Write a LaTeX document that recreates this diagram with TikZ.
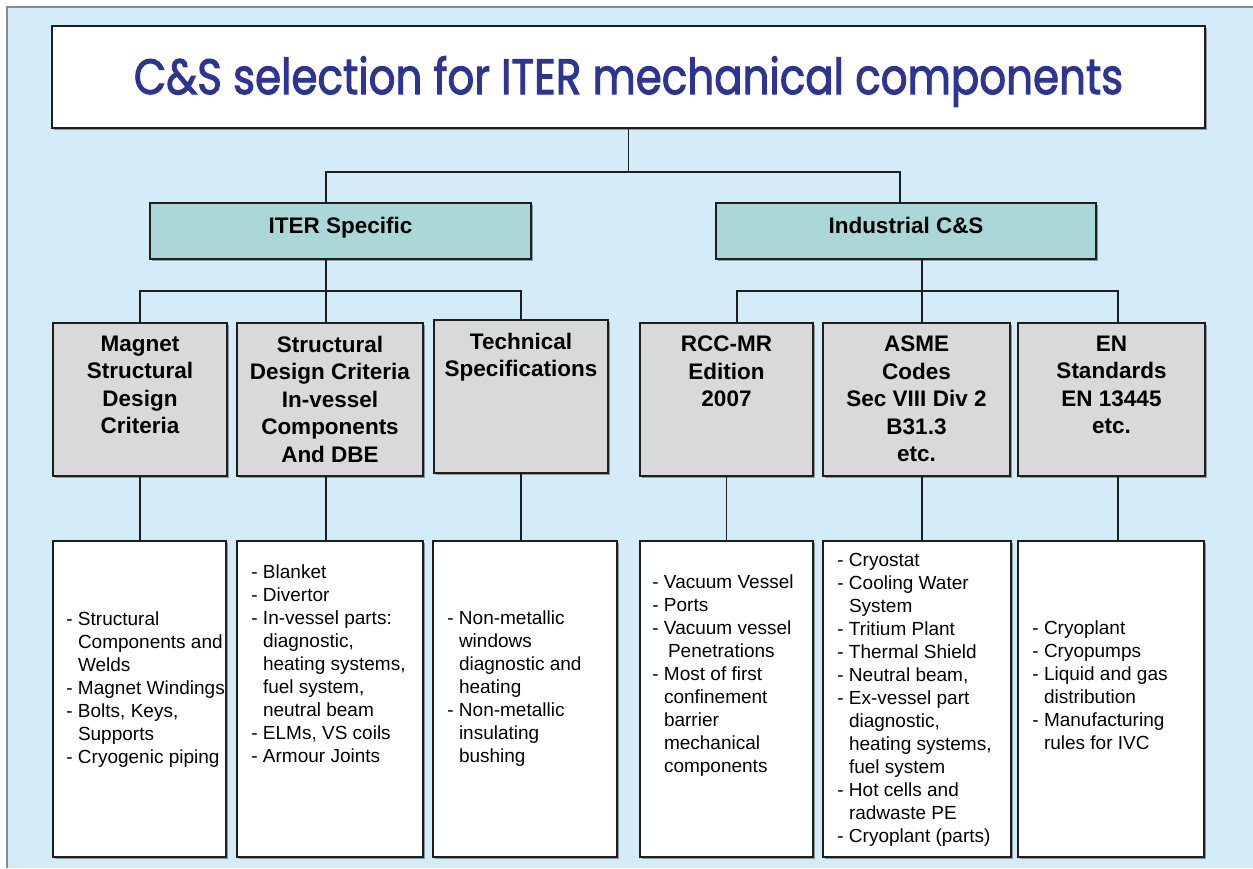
\documentclass[tikz,border=0pt]{standalone}
\usepackage{fontspec}
\setmainfont{Liberation Sans}
\newfontfamily\titlefont{Poppins}[FakeBold=2.2]
\usetikzlibrary{positioning,shadows}

\definecolor{bgblue}{RGB}{212,235,248}
\definecolor{framegray}{RGB}{130,140,150}
\definecolor{tealbox}{RGB}{170,215,216}
\definecolor{graybox}{RGB}{217,217,217}
\definecolor{titleblue}{RGB}{46,52,148}
\definecolor{linedark}{RGB}{30,30,30}
\newcommand{\cont}{\phantom{- }}

\begin{document}
\begin{tikzpicture}[x=1pt,y=-1pt,
  box/.style={draw=linedark,line width=1.6pt,inner sep=0pt,
    drop shadow={shadow xshift=1.5pt,shadow yshift=-1.5pt,fill=black,opacity=.35}},
  groupbox/.style={box,fill=tealbox,minimum width=381pt,minimum height=56pt},
  codebox/.style={box,fill=graybox,minimum height=153pt},
  listbox/.style={box,fill=white,minimum height=316pt},
  grouptext/.style={inner sep=0pt,anchor=base,yshift=-2pt,font=\fontsize{22.5}{27.5}\selectfont\bfseries},
  codetext/.style={inner sep=0pt,align=center,font=\fontsize{22.5}{27.5}\selectfont\bfseries},
  listtext/.style={inner sep=0pt,align=left,font=\fontsize{19}{23}\selectfont},
  link/.style={draw=linedark,line width=1.8pt}]
\useasboundingbox (0,0) rectangle (1253,868);
\fill[bgblue] (7,7) rectangle (1253,868);
\draw[framegray,line width=1.5pt] (7,868) -- (7,7) -- (1253,7);

% title and the two families
\node[box,fill=white,minimum width=1153pt,minimum height=102pt] (title) at (628.5,77) {};
\node[inner sep=0pt,anchor=base,text=titleblue,font=\titlefont\fontsize{42}{48}\selectfont]
  (titletxt) at (628.5,94) {\scalebox{1}[1.18]{C\&S selection for ITER mechanical components}};
\node[groupbox] (iter) at (340.5,231) {};
\node[grouptext] (itertxt) at (iter.center) {ITER Specific};
\node[groupbox,minimum width=380pt] (indus) at (906,231) {};
\node[grouptext] (industxt) at (indus.center) {Industrial C\&S};

% codes and standards
\node[codebox,minimum width=174pt] (magnet) at (140,399.5) {};
\node[codetext,below=13.5pt of magnet.north] (magnettxt) {Magnet\\Structural\\Design\\Criteria};
\node[codebox,minimum width=186pt] (struct) at (330,399.5) {};
\node[codetext,below=13.5pt of struct.north] (structtxt) {Structural\\Design Criteria\\In-vessel\\Components\\And DBE};
\node[codebox,minimum width=174pt] (tech) at (521,396.5) {};
\node[codetext,below=13.5pt of tech.north] (techtxt) {Technical\\Specifications};
\node[codebox,minimum width=173pt] (rcc) at (726.5,399.5) {};
\node[codetext,below=13.5pt of rcc.north] (rcctxt) {RCC-MR\\Edition\\2007};
\node[codebox,minimum width=187pt] (asme) at (916.5,399.5) {};
\node[codetext,below=13.5pt of asme.north] (asmetxt) {ASME\\Codes\\Sec VIII Div 2\\B31.3\\etc.};
\node[codebox,minimum width=187pt] (en) at (1111.5,399.5) {};
\node[codetext,below=13.5pt of en.north] (entxt) {EN\\Standards\\EN 13445\\etc.};

% components covered
\node[listbox,minimum width=173pt] (list1) at (139.5,699) {};
\node[listtext,below right=71.5pt and 14pt of list1.north west] (list1txt)
  {- Structural\\\cont Components and\\\cont Welds\\- Magnet Windings\\- Bolts, Keys,\\\cont Supports\\- Cryogenic piping};
\node[listbox,minimum width=186pt] (list2) at (330,699) {};
\node[listtext,below right=24.5pt and 15pt of list2.north west] (list2txt)
  {- Blanket\\- Divertor\\- In-vessel parts:\\\cont diagnostic,\\\cont heating systems,\\\cont fuel system,\\\cont neutral beam\\- ELMs, VS coils\\- Armour Joints};
\node[listbox,minimum width=184pt] (list3) at (525,699) {};
\node[listtext,below right=70.5pt and 15pt of list3.north west] (list3txt)
  {- Non-metallic\\\cont windows\\\cont diagnostic and\\\cont heating\\- Non-metallic\\\cont insulating\\\cont bushing};
\node[listbox,minimum width=173pt] (list4) at (726.5,699) {};
\node[listtext,below right=34.5pt and 13pt of list4.north west] (list4txt)
  {- Vacuum Vessel\\- Ports\\- Vacuum vessel\\\cont\hspace{4pt}Penetrations\\- Most of first\\\cont confinement\\\cont barrier\\\cont mechanical\\\cont components};
\node[listbox,minimum width=188pt] (list5) at (917,699) {};
\node[listtext,below right=12.5pt and 15pt of list5.north west] (list5txt)
  {- Cryostat\\- Cooling Water\\\cont System\\- Tritium Plant\\- Thermal Shield\\- Neutral beam,\\- Ex-vessel part\\\cont diagnostic,\\\cont heating systems,\\\cont fuel system\\- Hot cells and\\\cont radwaste PE\\- Cryoplant (parts)};
\node[listbox,minimum width=186pt] (list6) at (1111,699) {};
\node[listtext,below right=80.5pt and 15pt of list6.north west] (list6txt)
  {- Cryoplant\\- Cryopumps\\- Liquid and gas\\\cont distribution\\- Manufacturing\\\cont rules for IVC};

% connectors
\coordinate (top) at (900,172);
\coordinate (busL) at (326,291);
\coordinate (busR) at (922,291);
\coordinate (rcctop) at (737,291);
\coordinate (entop) at (1118,291);
\draw[link] (title.south) -- (title.south |- top);
\draw[link] (iter.north -| busL) |- (top) -- (indus.north -| top);
\draw[link] (iter.south -| busL) -- (struct.north -| busL);
\draw[link] (magnet.north) |- (busL) -| (tech.north);
\draw[link] (indus.south -| busR) -- (asme.north -| busR);
\draw[link] (rcc.north -| rcctop) -- (rcctop) -- (entop) -- (en.north -| entop);
\draw[link] (magnet.south) -- (list1.north -| magnet.south);
\draw[link] (struct.south -| busL) -- (list2.north -| busL);
\draw[link] (tech.south) -- (list3.north -| tech.south);
\draw[link] (rcc.south) -- (list4.north -| rcc.south);
\draw[link] (asme.south -| busR) -- (list5.north -| busR);
\draw[link] (en.south -| entop) -- (list6.north -| entop);
\end{tikzpicture}
\end{document}
